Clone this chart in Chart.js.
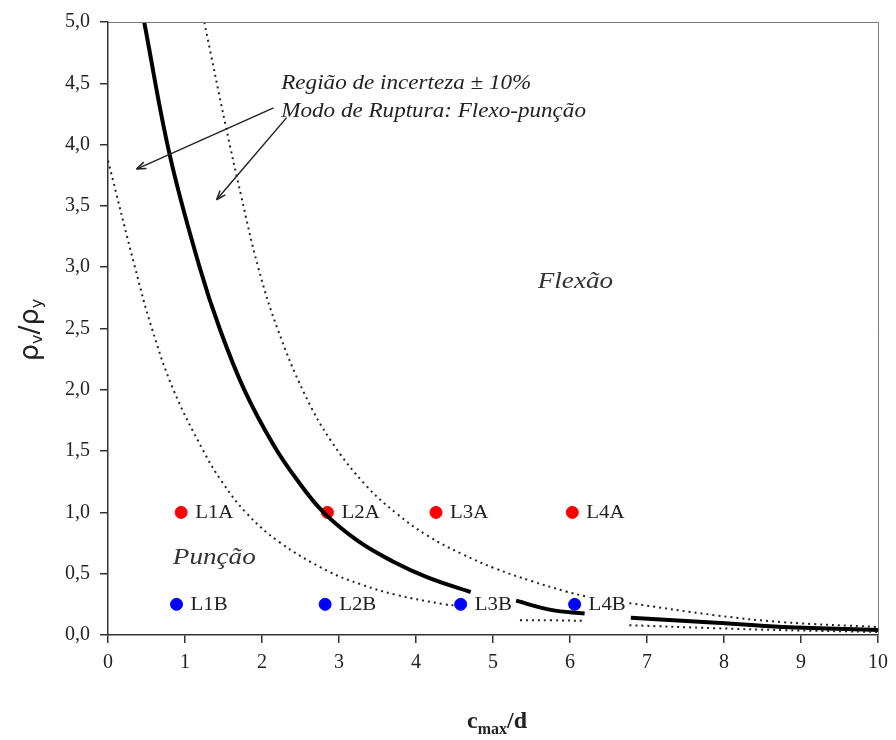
<!DOCTYPE html>
<html>
<head>
<meta charset="utf-8">
<script src="https://cdn.jsdelivr.net/npm/chart.js@4.4.1/dist/chart.umd.min.js"></script>
<style>
  html, body { margin: 0; padding: 0; background: #fff; }
  #wrap { width: 896px; height: 740px; }
</style>
</head>
<body>
<div id="wrap"><canvas id="chart" width="896" height="740"></canvas></div>
<script>
// eixos
const xTicks = [0, 1, 2, 3, 4, 5, 6, 7, 8, 9, 10];
const yTicks = [0, 0.5, 1, 1.5, 2, 2.5, 3, 3.5, 4, 4.5, 5];
const yTickLabels = ["0,0", "0,5", "1,0", "1,5", "2,0", "2,5", "3,0", "3,5", "4,0", "4,5", "5,0"];

// lajes ensaiadas
const namesA = ["L1A", "L2A", "L3A", "L4A"];
const xA = [0.95, 2.85, 4.26, 6.03];
const yA = [1.0, 1.0, 1.0, 1.0];
const namesB = ["L1B", "L2B", "L3B", "L4B"];
const xB = [0.89, 2.82, 4.58, 6.06];
const yB = [0.25, 0.25, 0.25, 0.25];

// curva de transição (trechos)
const curveA = [[0.47, 5.0], [0.8, 3.92], [1.19, 3.0], [1.45, 2.5], [1.77, 2.0], [2.15, 1.55], [2.45, 1.27],
  [2.80, 1.0], [3.25, 0.765], [3.70, 0.60], [4.15, 0.47], [4.71, 0.35]];
const curveB = [[5.30, 0.28], [5.75, 0.205], [6.19, 0.175]];
const curveC = [[6.79, 0.14], [7.9, 0.10], [8.76, 0.065], [10.05, 0.04]];

// limites +10% / -10%
const upperA = [[1.25, 5.0], [1.53, 4.15], [1.73, 3.58], [1.95, 3.0], [2.2, 2.5], [2.55, 1.97], [2.9, 1.58],
  [3.35, 1.22], [3.75, 0.99], [4.15, 0.81], [4.6, 0.66], [5.02, 0.545], [5.5, 0.44], [5.95, 0.355], [6.2, 0.315]];
const upperB = [[6.77, 0.26], [7.9, 0.16], [8.76, 0.105], [10.0, 0.065]];
const lowerA = [[0, 3.87], [0.35, 3.0], [0.57, 2.5], [0.85, 2.0], [1.24, 1.5], [1.48, 1.25], [1.79, 1.0],
  [2.22, 0.76], [2.86, 0.52], [3.3, 0.41], [3.73, 0.33], [4.37, 0.25], [4.55, 0.24]];
const lowerB = [[5.35, 0.12], [5.75, 0.12], [6.18, 0.115]];
const lowerC = [[6.77, 0.08], [7.9, 0.055], [8.76, 0.04], [10.0, 0.025]];

const serif = "'Liberation Serif', 'Times New Roman', serif";

function toXY(arr) {
  return arr.map(p => ({ x: p[0], y: p[1] }));
}

function solid(arr) {
  return { data: toXY(arr), showLine: true, borderColor: "#000", borderWidth: 4, pointRadius: 0,
    tension: 0.4, fill: false };
}

function dotted(arr) {
  return { data: toXY(arr), showLine: true, borderColor: "#222", borderWidth: 2, borderDash: [2, 4],
    pointRadius: 0, tension: 0.4, fill: false };
}

function arrow(ctx, x1, y1, x2, y2) {
  ctx.beginPath();
  ctx.moveTo(x1, y1);
  ctx.lineTo(x2, y2);
  ctx.stroke();
  const a = Math.atan2(y2 - y1, x2 - x1);
  const L = 10;
  ctx.beginPath();
  ctx.moveTo(x2, y2);
  ctx.lineTo(x2 - L * Math.cos(a - 0.35), y2 - L * Math.sin(a - 0.35));
  ctx.moveTo(x2, y2);
  ctx.lineTo(x2 - L * Math.cos(a + 0.35), y2 - L * Math.sin(a + 0.35));
  ctx.stroke();
}

// texto esticado na horizontal (fonte Times larga)
function wideText(ctx, text, x, y, sx, align) {
  ctx.save();
  ctx.translate(x, y);
  ctx.scale(sx, 1);
  ctx.textAlign = align;
  ctx.fillText(text, 0, 0);
  ctx.restore();
}

// textos, setas, moldura e títulos dos eixos
const extras = {
  id: "extras",
  afterDraw(chart) {
    const ctx = chart.ctx;
    const xs = chart.scales.x, ys = chart.scales.y;
    const area = chart.chartArea;
    const px = v => xs.getPixelForValue(v);
    const py = v => ys.getPixelForValue(v);

    ctx.save();
    // moldura superior e direita
    ctx.strokeStyle = "#777";
    ctx.lineWidth = 1;
    ctx.beginPath();
    ctx.moveTo(area.left, area.top + 0.5);
    ctx.lineTo(area.right + 0.5, area.top + 0.5);
    ctx.lineTo(area.right + 0.5, area.bottom);
    ctx.stroke();

    // rótulos das lajes
    ctx.fillStyle = "#222";
    ctx.font = "19px " + serif;
    ctx.textBaseline = "middle";
    namesA.forEach((n, i) => wideText(ctx, n, px(xA[i]) + 14, py(yA[i]) + 1, 1.1, "left"));
    namesB.forEach((n, i) => wideText(ctx, n, px(xB[i]) + 14, py(yB[i]) + 1, 1.1, "left"));

    // regiões
    ctx.font = "italic 23px " + serif;
    ctx.fillStyle = "#333";
    wideText(ctx, "Flexão", px(6.07), py(2.88), 1.18, "center");
    wideText(ctx, "Punção", px(1.38), py(0.63), 1.18, "center");

    ctx.font = "italic 21px " + serif;
    ctx.fillStyle = "#222";
    wideText(ctx, "Região de incerteza ± 10%", px(2.25), py(4.5), 1.1, "left");
    wideText(ctx, "Modo de Ruptura: Flexo-punção", px(2.25), py(4.27), 1.1, "left");

    ctx.strokeStyle = "#222";
    ctx.lineWidth = 1.5;
    arrow(ctx, px(2.15), py(4.30), px(0.37), py(3.80));
    arrow(ctx, px(2.32), py(4.22), px(1.41), py(3.55));

    // título do eixo x: c_max/d
    ctx.fillStyle = "#222";
    ctx.textBaseline = "alphabetic";
    ctx.textAlign = "left";
    const xt = [["c", "bold 24px " + serif, 0], ["max", "bold 16px " + serif, 6], ["/d", "bold 24px " + serif, 0]];
    let w = 0;
    xt.forEach(t => { ctx.font = t[1]; w += ctx.measureText(t[0]).width; });
    let cx = (area.left + area.right) / 2 + 4 - w / 2;
    xt.forEach(t => { ctx.font = t[1]; ctx.fillText(t[0], cx, 728 + t[2]); cx += ctx.measureText(t[0]).width; });

    // título do eixo y: ρv/ρy
    ctx.translate(38, 330);
    ctx.rotate(-Math.PI / 2);
    const big = "27px 'DejaVu Sans', sans-serif", small = "16px 'DejaVu Sans', sans-serif";
    const yt = [["ρ", big, 0], ["v", small, 4], ["/", big, 0], ["ρ", big, 0], ["y", small, 4]];
    w = 0;
    yt.forEach(t => { ctx.font = t[1]; w += ctx.measureText(t[0]).width; });
    cx = -w / 2;
    yt.forEach(t => { ctx.font = t[1]; ctx.fillText(t[0], cx, t[2]); cx += ctx.measureText(t[0]).width; });
    ctx.restore();
  }
};

const ctx = document.getElementById("chart").getContext("2d");
new Chart(ctx, {
  type: "scatter",
  data: {
    datasets: [
      dotted(lowerA), dotted(lowerB), dotted(lowerC),
      dotted(upperA), dotted(upperB),
      solid(curveA), solid(curveB), solid(curveC),
      { data: xA.map((x, i) => ({ x: x, y: yA[i] })), backgroundColor: "#ff0000", borderColor: "#ff0000",
        pointRadius: 6, pointHoverRadius: 6 },
      { data: xB.map((x, i) => ({ x: x, y: yB[i] })), backgroundColor: "#0000ff", borderColor: "#0000ff",
        pointRadius: 6, pointHoverRadius: 6 },
    ],
  },
  options: {
    responsive: false,
    animation: false,
    devicePixelRatio: 1,
    layout: { padding: { left: 0, top: 22, right: 13, bottom: 0 } },
    plugins: { legend: { display: false }, tooltip: { enabled: false } },
    scales: {
      x: {
        type: "linear",
        min: 0,
        max: 10,
        afterBuildTicks: s => { s.ticks = xTicks.map(v => ({ value: v })); },
        afterFit: s => { s.height = 105; },
        grid: { drawOnChartArea: false, tickLength: 8, color: "#333", lineWidth: 1.5 },
        border: { color: "#333", width: 1.5 },
        ticks: { color: "#222", padding: 8, font: { family: serif, size: 20 }, maxRotation: 0,
          callback: v => String(v) },
      },
      y: {
        type: "linear",
        min: 0,
        max: 5,
        afterBuildTicks: s => { s.ticks = yTicks.map(v => ({ value: v })); },
        afterFit: s => { s.width = 108; },
        grid: { drawOnChartArea: false, tickLength: 8, color: "#333", lineWidth: 1.5 },
        border: { color: "#333", width: 1.5 },
        ticks: { color: "#222", padding: 10, font: { family: serif, size: 20 },
          callback: v => yTickLabels[yTicks.indexOf(v)] },
      },
    },
  },
  plugins: [extras],
});
</script>
</body>
</html>
